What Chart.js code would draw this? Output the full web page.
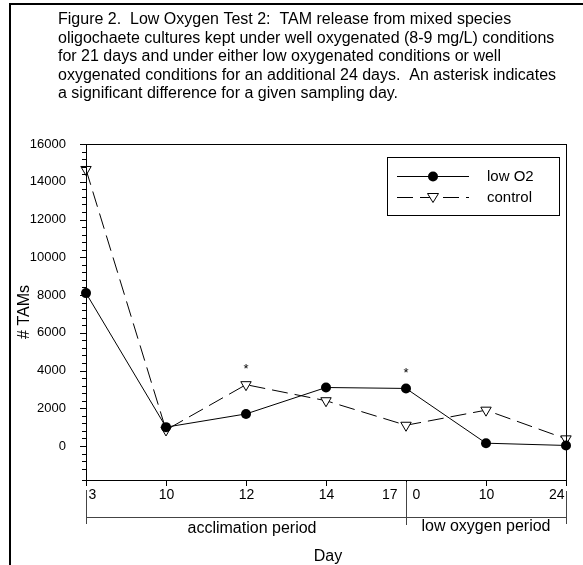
<!DOCTYPE html>
<html>
<head>
<meta charset="utf-8">
<script src="https://cdn.jsdelivr.net/npm/chart.js@4"></script>
<style>
  body { margin: 0; background: #fff; }
  canvas { display: block; }
</style>
</head>
<body>
<canvas id="chart" width="583" height="565"></canvas>
<script>
// data
let acclimationDays = ["3", "10", "12", "14", "17"];
let lowOxygenDays = ["0", "10", "24"];
let lowO2 = [8100, 1000, 1700, 3100, 3050, 150, 30];
let control = [14650, 850, 3250, 2400, 1100, 1900, 380];
let significant = [2, 4];
let captionLines = [
  "Figure 2.  Low Oxygen Test 2:  TAM release from mixed species",
  "oligochaete cultures kept under well oxygenated (8-9 mg/L) conditions",
  "for 21 days and under either low oxygenated conditions or well",
  "oxygenated conditions for an additional 24 days.  An asterisk indicates",
  "a significant difference for a given sampling day.",
];

let font = '"Liberation Sans", Arial, sans-serif';
let labels = acclimationDays.concat(lowOxygenDays.slice(1));

//draw the things chart.js has no option for
let extras = {
  id: "extras",
  afterDraw(chart) {
    let ctx = chart.ctx;
    let area = chart.chartArea;
    let xs = chart.scales.x;
    let ys = chart.scales.y;
    ctx.save();
    ctx.strokeStyle = "#000";
    ctx.fillStyle = "#000";

    // page frame
    ctx.lineWidth = 2;
    ctx.beginPath();
    ctx.moveTo(10, 565);
    ctx.lineTo(10, 4);
    ctx.lineTo(583, 4);
    ctx.stroke();

    // caption
    ctx.font = "16px " + font;
    ctx.textBaseline = "middle";
    ctx.textAlign = "left";
    captionLines.forEach((line, i) => {
      ctx.fillText(line, 58, 20 + i * 18.5);
    });

    // plot frame
    ctx.lineWidth = 1;
    ctx.strokeRect(area.left + 0.5, area.top + 0.5, area.width, area.height);

    // y ticks, long at labelled ones
    ys.ticks.forEach((t) => {
      let y = Math.round(ys.getPixelForValue(t.value)) + 0.5;
      let len = t.value % 2000 === 0 ? 6 : 4;
      ctx.beginPath();
      ctx.moveTo(area.left - len, y);
      ctx.lineTo(area.left, y);
      ctx.stroke();
    });

    // x ticks and labels
    ctx.font = "14px " + font;
    labels.forEach((lab, i) => {
      let x = Math.round(xs.getPixelForValue(i)) + 0.5;
      ctx.beginPath();
      ctx.moveTo(x, area.bottom);
      ctx.lineTo(x, area.bottom + 6);
      ctx.stroke();
      let y = area.bottom + 15;
      if (i === 0) {
        ctx.textAlign = "left";
        ctx.fillText(lab, x + 2, y);
      } else if (i === 4) {
        ctx.textAlign = "right";
        ctx.fillText(lab, x - 9, y);
        ctx.textAlign = "left";
        ctx.fillText(lowOxygenDays[0], x + 6, y);
      } else if (i === labels.length - 1) {
        ctx.textAlign = "right";
        ctx.fillText(lab, x - 2, y);
      } else {
        ctx.textAlign = "center";
        ctx.fillText(lab, x, y);
      }
    });

    // period bracket
    let x0 = Math.round(xs.getPixelForValue(0)) + 0.5;
    let x4 = Math.round(xs.getPixelForValue(4)) + 0.5;
    let x6 = Math.round(xs.getPixelForValue(6)) + 0.5;
    ctx.strokeStyle = "#444";
    ctx.beginPath();
    ctx.moveTo(x0, 517.5);
    ctx.lineTo(x6, 517.5);
    ctx.moveTo(x0, 490);
    ctx.lineTo(x0, 524);
    ctx.moveTo(x4, 482);
    ctx.lineTo(x4, 525);
    ctx.moveTo(x6, 491);
    ctx.lineTo(x6, 524);
    ctx.stroke();

    ctx.font = "16px " + font;
    ctx.textAlign = "center";
    ctx.fillText("acclimation period", 252, 529);
    ctx.fillText("low oxygen period", 486, 527);
    ctx.fillText("Day", 328, 557);

    // y title
    ctx.save();
    ctx.translate(25, (area.top + area.bottom) / 2);
    ctx.rotate(-Math.PI / 2);
    ctx.fillText("# TAMs", 0, 0);
    ctx.restore();

    // asterisks over significant days
    ctx.font = "13px " + font;
    significant.forEach((i) => {
      let top = Math.max(lowO2[i], control[i]);
      ctx.fillText("*", xs.getPixelForValue(i), ys.getPixelForValue(top) - 15);
    });

    // legend
    ctx.strokeStyle = "#000";
    ctx.lineWidth = 1;
    ctx.strokeRect(387.5, 157.5, 172, 58);
    ctx.beginPath();
    ctx.moveTo(397, 176.5);
    ctx.lineTo(469, 176.5);
    ctx.stroke();
    ctx.beginPath();
    ctx.arc(433, 176.5, 5, 0, Math.PI * 2);
    ctx.fill();
    ctx.setLineDash([16, 7]);
    ctx.beginPath();
    ctx.moveTo(397, 197.5);
    ctx.lineTo(469, 197.5);
    ctx.stroke();
    ctx.setLineDash([]);
    ctx.fillStyle = "#fff";
    ctx.beginPath();
    ctx.moveTo(427.5, 193.5);
    ctx.lineTo(438.5, 193.5);
    ctx.lineTo(433, 202.5);
    ctx.closePath();
    ctx.fill();
    ctx.stroke();
    ctx.fillStyle = "#000";
    ctx.font = "15px " + font;
    ctx.textAlign = "left";
    ctx.fillText("low O2", 487, 176.5);
    ctx.fillText("control", 487, 197.5);

    ctx.restore();
  },
};

new Chart(document.getElementById("chart"), {
  type: "line",
  data: {
    labels: labels,
    datasets: [
      {
        label: "low O2",
        data: lowO2,
        borderColor: "#000",
        borderWidth: 1,
        backgroundColor: "#000",
        pointStyle: "circle",
        pointRadius: 5,
        pointBorderWidth: 0,
        clip: false,
      },
      {
        label: "control",
        data: control,
        borderColor: "#000",
        borderWidth: 1,
        borderDash: [16, 7],
        backgroundColor: "#fff",
        pointStyle: "triangle",
        pointRotation: 180,
        pointRadius: 6,
        pointBorderWidth: 1,
        clip: false,
      },
    ],
  },
  options: {
    responsive: false,
    animation: false,
    devicePixelRatio: 1,
    layout: { padding: { top: 144, right: 17, left: 0, bottom: 0 } },
    plugins: { legend: { display: false }, tooltip: { enabled: false } },
    scales: {
      x: {
        type: "category",
        offset: false,
        grid: { display: false },
        border: { display: false },
        ticks: { display: false },
        afterFit: (s) => { s.height = 85; },
      },
      y: {
        min: -1800,
        max: 16000,
        grid: { display: false },
        border: { display: false },
        ticks: {
          stepSize: 400,
          autoSkip: false,
          padding: 12,
          color: "#000",
          font: { family: font, size: 13 },
          callback: (v) => (v % 2000 === 0 ? v : ""),
        },
        afterFit: (s) => { s.width = 86; },
      },
    },
  },
  plugins: [extras],
});
</script>
</body>
</html>
